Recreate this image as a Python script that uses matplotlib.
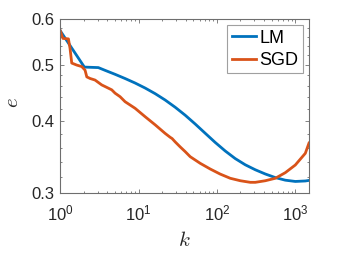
import matplotlib
matplotlib.use("Agg")
import matplotlib.pyplot as plt
from matplotlib.ticker import FixedLocator, NullFormatter

plt.rcParams['font.family'] = ['Liberation Sans', 'DejaVu Sans']
plt.rcParams['mathtext.fontset'] = 'custom'
plt.rcParams['mathtext.rm'] = 'Liberation Sans'
plt.rcParams['mathtext.it'] = 'Liberation Sans:italic'
plt.rcParams['mathtext.default'] = 'regular'

# ---- data ----
lm_k = [1.0, 2.03, 3.06, 3.73, 5.01, 6.72, 9.02, 12.11, 16.26, 21.83, 29.30, 39.33, 52.78, 70.86,
        95.1, 127.7, 171.4, 230.1, 308.9, 414.6, 556.6, 747.1, 1003, 1346, 1500]
lm_e = [0.573, 0.496, 0.495, 0.4896, 0.4819, 0.4739, 0.4655, 0.4563, 0.4462, 0.4350, 0.4227,
        0.4095, 0.3954, 0.3811, 0.3674, 0.3551, 0.3445, 0.3361, 0.3295, 0.3240, 0.3194, 0.3161,
        0.3145, 0.3151, 0.3158]

sgd_k = [1.0, 1.08, 1.27, 1.33, 1.40, 1.62, 1.88, 2.07, 2.18, 2.40, 2.78, 3.38, 3.73, 4.54, 5.01,
         5.80, 6.72, 9.02, 12.1, 16.3, 21.8, 25.3, 26.8, 29.3, 33.9, 39.33, 45.6, 61.1, 82.1, 110,
         148, 199, 267, 309, 415, 557, 747, 1003, 1346, 1500]
sgd_e = [0.573, 0.556, 0.555, 0.535, 0.504, 0.500, 0.497, 0.490, 0.477, 0.474, 0.471, 0.462, 0.459,
         0.453, 0.447, 0.4408, 0.4321, 0.4209, 0.4071, 0.3940, 0.3809, 0.3750, 0.3731, 0.3682,
         0.3610, 0.3542, 0.3471, 0.3381, 0.3305, 0.3239, 0.3185, 0.3154, 0.3134, 0.3134, 0.3154,
         0.3185, 0.3257, 0.3358, 0.3518, 0.3665]

x_ticks = [1, 10, 100, 1000]
x_ticklabels = ['$10^{0}$', '$10^{1}$', '$10^{2}$', '$10^{3}$']
y_ticks = [0.3, 0.4, 0.5, 0.6]
y_ticklabels = ['0.3', '0.4', '0.5', '0.6']
series_names = ['LM', 'SGD']

fig = plt.figure(figsize=(3.42, 2.56), dpi=100)
ax = fig.add_axes([60.3 / 342, 1 - 193.3 / 256, (309 - 60.3) / 342, (193.3 - 19.3) / 256])

ax.plot(lm_k, lm_e, color='#0072BD', lw=2.0, label=series_names[0], solid_joinstyle='round')
ax.plot(sgd_k, sgd_e, color='#D95319', lw=2.0, label=series_names[1], solid_joinstyle='round')

ax.set_xscale('log')
ax.set_yscale('log')
ax.set_xlim(1, 1500)
ax.set_ylim(0.3, 0.6)

ax.xaxis.set_major_locator(FixedLocator(x_ticks))
ax.set_xticklabels(x_ticklabels)
minx = [m * d for d in [1, 10, 100] for m in range(2, 10)]
ax.xaxis.set_minor_locator(FixedLocator(minx))
ax.xaxis.set_minor_formatter(NullFormatter())

ax.yaxis.set_major_locator(FixedLocator(y_ticks))
ax.set_yticklabels(y_ticklabels)
miny = [0.32, 0.34, 0.36, 0.38, 0.42, 0.44, 0.46, 0.48, 0.52, 0.54, 0.56, 0.58]
ax.yaxis.set_minor_locator(FixedLocator(miny))
ax.yaxis.set_minor_formatter(NullFormatter())

for s in ax.spines.values():
    s.set_color('#6e6e6e')
    s.set_linewidth(0.8)
ax.tick_params(which='both', direction='in', top=True, right=True, color='#6e6e6e', width=0.6)
ax.tick_params(which='major', length=3, labelsize=12, labelcolor='#262626')
ax.tick_params(which='minor', length=1.6)
ax.tick_params(axis='x', which='major', pad=7)
ax.tick_params(axis='y', which='major', pad=4)

ax.set_xlabel(r'$\mathit{k}$', fontsize=15, math_fontfamily='cm', color='#262626')
ax.set_ylabel(r'$\mathit{e}$', fontsize=15, math_fontfamily='cm', color='#262626')
ax.xaxis.set_label_coords(0.5, -0.215)
ax.yaxis.set_label_coords(-0.152, 0.52)

leg = ax.legend(loc='upper right', bbox_to_anchor=(303 / 342, 1 - 25 / 256),
                bbox_transform=fig.transFigure, borderaxespad=0, fontsize=13,
                fancybox=False, edgecolor='#a0a0a0', framealpha=1,
                handlelength=1.35, handletextpad=0.2, borderpad=0.25, labelspacing=0.3)
leg.get_frame().set_linewidth(0.8)

fig.savefig('out.png', dpi=100)
